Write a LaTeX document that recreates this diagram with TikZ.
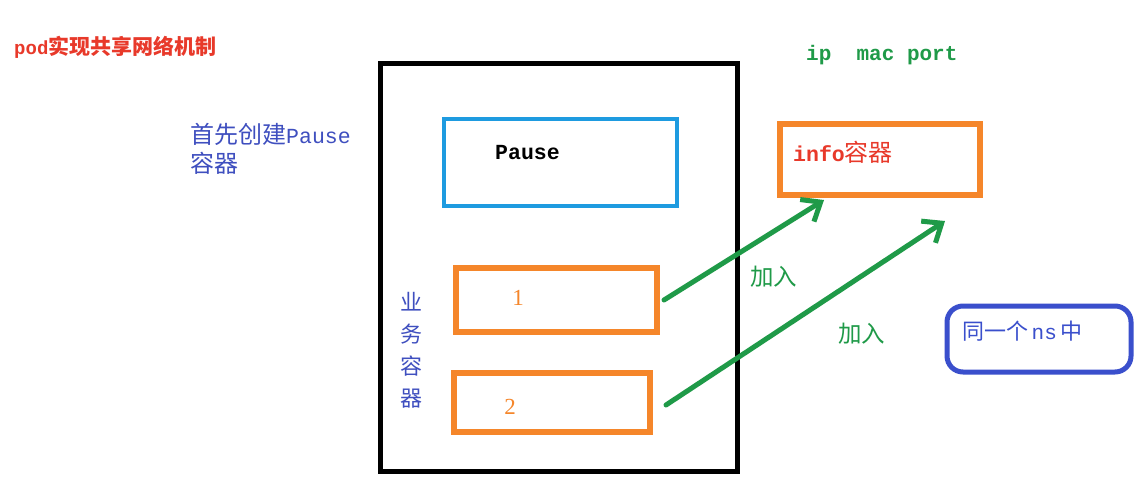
\documentclass[tikz,border=0pt]{standalone}
\usepackage{fontspec}
\setmainfont{Liberation Mono}
\newfontfamily\cjk{Noto Sans CJK SC}
\newfontfamily\dig{Liberation Serif}
\usetikzlibrary{arrows.meta}
\definecolor{tred}{HTML}{E8392A}
\definecolor{tblue}{HTML}{3F4FBF}
\definecolor{torange}{HTML}{F5862A}
\definecolor{tcyan}{HTML}{1E9BE0}
\definecolor{tgreen}{HTML}{1F9A48}
\definecolor{rblue}{HTML}{3A4FCC}
\tikzset{
  txt/.style={inner sep=0pt, anchor=west},
  obox/.style={draw=torange, line width=6pt},
  arr/.style={draw=tgreen, line width=5pt, line cap=round, -{Straight Barb[length=16pt,width=26pt,line width=5pt]}},
}
\newcommand{\fs}[1]{\fontsize{#1}{#1}\selectfont}
\begin{document}
\begin{tikzpicture}[x=1pt,y=-1pt]
\useasboundingbox (0,0) rectangle (1134,485);
\fill[white] (0,0) rectangle (1134,485);
% title
\node[txt, text=tred, font=\fs{19}\bfseries] (title) at (14,47) {pod{\fs{21}\cjk 实现共享网络机制}};
% main pod rectangle
\draw[line width=5pt] (380,63) rectangle (737,471);
% pause box
\draw[draw=tcyan, line width=4pt] (444,119) rectangle (677,206);
\node[txt, font=\fs{21.5}\bfseries] (pause) at (495,153) {Pause};
\node[txt, text=tblue, font=\fs{21.5}] (first) at (190,134) {{\fs{24}\cjk 首先创建}Pause};
\node[txt, text=tblue, font=\fs{24}\cjk] (first2) at (190,163) {容器};
% business containers
\draw[obox] (456,268) rectangle (657,332);
\draw[obox] (454,373) rectangle (650,432);
\node[text=torange, font=\fs{23}\dig, inner sep=0pt] (c1) at (518,298) {1};
\node[text=torange, font=\fs{23}\dig, inner sep=0pt] (c2) at (510,407) {2};
\coordinate (b1) at (664,300);
\coordinate (b2) at (666,405);
\node[text=tblue, font=\fs{22}\cjk, inner sep=0pt, align=center] (biz) at (411,350) {业\\[10pt]务\\[10pt]容\\[10pt]器};
% info container
\draw[obox, line width=5.5pt] (780,124) rectangle (980,195);
\node[txt, text=tred, font=\fs{21.5}\bfseries] (info) at (793,152) {info{\fs{24}\cjk\mdseries 容器}};
\node[txt, text=tgreen, font=\fs{21}\bfseries] (ipm) at (806,55) {ip\ \ mac port};
\coordinate (t1) at (824,200);
\coordinate (t2) at (945,221);
% arrows
\draw[arr] (b1) -- (t1);
\draw[arr] (b2) -- (t2);
\node[txt, text=tgreen, font=\fs{23.5}\cjk] (j1) at (750,277) {加入};
\node[txt, text=tgreen, font=\fs{23.5}\cjk] (j2) at (838,334) {加入};
% ns box
\draw[draw=rblue, line width=5pt, rounded corners=16pt] (947,306) rectangle (1131,372);
\node[txt, text=rblue, font=\fs{21}] (ns) at (962,331) {{\fs{22}\cjk 同一个}\,ns\,{\fs{22}\cjk 中}};
\end{tikzpicture}
\end{document}
